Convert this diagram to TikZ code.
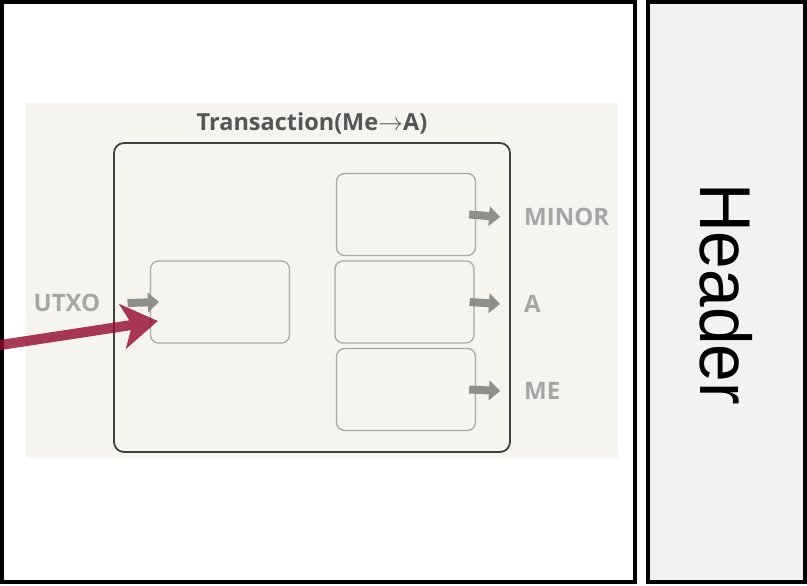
\documentclass[tikz,border=0pt]{standalone}
\usepackage{fontspec}
\setmainfont{Open Sans}
\newfontfamily\headerfont{Liberation Sans}
\usetikzlibrary{arrows.meta}

\definecolor{panelbg}{RGB}{245,244,239}
\definecolor{headerbg}{RGB}{242,242,242}
\definecolor{boxgray}{RGB}{169,169,165}
\definecolor{framegray}{RGB}{64,64,64}
\definecolor{arrowgray}{RGB}{142,142,138}
\definecolor{labelgray}{RGB}{166,166,166}
\definecolor{titlegray}{RGB}{85,85,85}
\definecolor{spendred}{RGB}{148,8,42}

\begin{document}
\begin{tikzpicture}[x = 1pt, y = -1pt,
    card/.style = {draw = boxgray, line width = 1.3pt, rounded corners = 8pt,
        minimum width = 139pt, minimum height = 82pt, inner sep = 0},
    outlabel/.style = {text = labelgray, inner sep = 0, anchor = west,
        font = \bfseries\fontsize{24}{24}\selectfont},
    flow/.style = {draw = arrowgray, line width = 8pt,
        -{Triangle[length = 11pt, width = 20pt, line width = 0pt]}}]
    \useasboundingbox (0, 0) rectangle (807, 586);

    %% frames
    \draw[line width = 4pt] (2, 2) rectangle (635, 582);
    \draw[line width = 4pt, fill = headerbg] (648, 2) rectangle (805, 582);
    \node[rotate = -90, inner sep = 0] (header) at (726, 294)
        {\headerfont\fontsize{72}{72}\selectfont\scalebox{0.94}[1]{Header}};

    %% transaction panel
    \fill[panelbg] (26, 103) rectangle (618, 458);
    \node[draw = framegray, line width = 1.8pt, rounded corners = 10pt,
        minimum width = 396pt, minimum height = 309pt] (tx) at (312, 297.5) {};
    \node[anchor = south, inner sep = 0, text = titlegray,
        font = \bfseries\fontsize{23.5}{23.5}\selectfont] (title)
        at ([yshift = 8pt]tx.north) {Transaction(Me$\rightarrow$A)};

    %% input and outputs
    \node[card] (in) at (220, 302) {};
    \node[card] (outMinor) at (406, 214.5) {};
    \node[card] (outA) at (404.5, 302) {};
    \node[card] (outMe) at (406, 389.5) {};

    \node[outlabel, anchor = center] (utxo) at (67, 303) {UTXO};
    \node[outlabel] (lblMinor) at (524, 217) {MINOR};
    \node[outlabel] (lblA) at (524, 304) {A};
    \node[outlabel] (lblMe) at (524, 391) {ME};

    \draw[flow] ([xshift = 27pt]utxo.east) -- ([xshift = 9pt]in.west);
    \draw[flow] ([xshift = -7pt]outMinor.east) -- ([xshift = -24pt]lblMinor.west);
    \draw[flow] ([xshift = -5pt]outA.east) -- ([xshift = -24pt]lblA.west);
    \draw[flow] ([xshift = -7pt]outMe.east) -- ([xshift = -24pt]lblMe.west);

    %% spending arrow
    \coordinate (src) at (-6, 346);
    \begin{scope}[transparency group, opacity = 0.8]
        \draw[spendred, line width = 10pt,
            -{Stealth[length = 36pt, width = 46pt, inset = 10pt, line width = 0pt]}]
            (src) -- ([shift = {(8, 19)}]in.west);
    \end{scope}
\end{tikzpicture}
\end{document}
